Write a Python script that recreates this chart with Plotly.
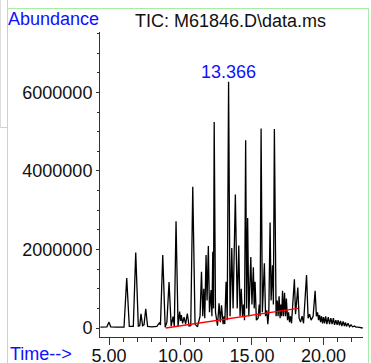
import plotly.graph_objects as go

# --- data (time in min, abundance in counts) ---
tic_time = [
    4.40, 4.85, 5.00, 5.12, 5.50, 6.05, 6.24, 6.42, 6.70, 6.87,
    7.05, 7.15, 7.24, 7.35, 7.45, 7.57, 7.70, 8.00, 8.35, 8.52,
    8.60, 8.76, 8.93, 9.05, 9.20, 9.35, 9.48, 9.57, 9.69, 9.83,
    9.94, 10.01, 10.06, 10.15, 10.25, 10.36, 10.48, 10.60, 10.72, 10.86,
    11.02, 11.19, 11.37, 11.47, 11.56, 11.63, 11.70, 11.79, 11.86, 11.95,
    12.03, 12.14, 12.20, 12.26, 12.31, 12.36, 12.45, 12.59, 12.70, 12.79,
    12.87, 12.98, 13.05, 13.10, 13.19, 13.27, 13.366, 13.47, 13.59, 13.68,
    13.84, 13.97, 14.08, 14.17, 14.25, 14.34, 14.41, 14.48, 14.56, 14.63,
    14.70, 14.78, 14.92, 15.00, 15.10, 15.16, 15.22, 15.31, 15.43, 15.51,
    15.57, 15.64, 15.73, 15.87, 15.95, 16.04, 16.11, 16.18, 16.27, 16.34,
    16.44, 16.50, 16.57, 16.65, 16.69, 16.77, 16.83, 16.90, 16.97, 17.02,
    17.08, 17.14, 17.21, 17.28, 17.35, 17.41, 17.49, 17.56, 17.63, 17.70,
    17.77, 17.97, 18.05, 18.21, 18.30, 18.40, 18.51, 18.61, 18.82, 18.93,
    19.03, 19.14, 19.28, 19.42, 19.51, 19.59, 19.66, 19.73, 19.80, 19.87,
    19.94, 20.01, 20.08, 20.16, 20.24, 20.34, 20.43, 20.52, 20.61, 20.70,
    20.78, 20.87, 20.96, 21.03, 21.12, 21.20, 21.29, 21.38, 21.47, 21.54,
    21.62, 21.72, 21.83, 21.93, 22.04, 22.18, 22.28, 22.42, 22.56, 22.75,
]
tic_abundance = [
    20000, 30000, 150000, 30000, 20000, 20000, 1270000, 40000, 40000, 1920000,
    50000, 60000, 360000, 60000, 80000, 490000, 40000, 30000, 40000, 130000,
    80000, 1860000, 20000, 150000, 1170000, 50000, 290000, 50000, 2720000, 40000,
    420000, 180000, 330000, 120000, 280000, 100000, 370000, 50000, 60000, 3600000,
    100000, 30000, 300000, 1430000, 300000, 1000000, 250000, 1860000, 700000, 2090000,
    400000, 970000, 300000, 1940000, 500000, 5250000, 400000, 60000, 630000, 150000,
    580000, 100000, 300000, 100000, 1180000, 200000, 6270000, 300000, 2040000, 500000,
    3400000, 500000, 2100000, 300000, 1000000, 300000, 600000, 200000, 4780000, 500000,
    2800000, 300000, 1810000, 600000, 1550000, 500000, 1180000, 200000, 250000, 600000,
    300000, 5080000, 400000, 1650000, 300000, 450000, 100000, 400000, 2690000, 700000,
    1600000, 600000, 5070000, 600000, 300000, 700000, 300000, 810000, 250000, 600000,
    300000, 950000, 300000, 900000, 300000, 750000, 200000, 400000, 150000, 300000,
    120000, 1240000, 350000, 1030000, 250000, 150000, 300000, 120000, 1350000, 250000,
    350000, 200000, 300000, 950000, 300000, 400000, 200000, 330000, 150000, 300000,
    120000, 280000, 120000, 300000, 100000, 280000, 100000, 250000, 100000, 250000,
    80000, 200000, 80000, 200000, 70000, 180000, 50000, 170000, 50000, 140000,
    40000, 120000, 30000, 80000, 30000, 50000, 20000, 20000, 10000, 0,
]
baseline_time = [8.97, 18.23]
baseline_abundance = [0, 500000]

apex_time = 13.366
apex_label = "13.366"
title_text = "TIC: M61846.D\\data.ms"
y_label = "Abundance"
x_label = "Time-->"

FONT = "Liberation Sans, Arial, sans-serif"

fig = go.Figure()
fig.add_trace(go.Scatter(x=tic_time, y=tic_abundance, mode="lines",
                         line=dict(color="black", width=1.3), hoverinfo="skip"))
fig.add_trace(go.Scatter(x=baseline_time, y=baseline_abundance, mode="lines",
                         line=dict(color="#ff0000", width=1.5), hoverinfo="skip"))

# plot area: x 100..363 px, y 32..337 px
def px(xp):
    return (xp - 100) / 263.0

def py(yp):
    return (337 - yp) / 305.0

green = "#a8eca8"
shapes = [
    dict(type="line", xref="paper", yref="paper", x0=px(7.5), x1=px(7.5), y0=py(0), y1=py(363), line=dict(color=green, width=1)),
    dict(type="line", xref="paper", yref="paper", x0=px(7.5), x1=px(368.5), y0=py(8.5), y1=py(8.5), line=dict(color=green, width=1)),
    dict(type="line", xref="paper", yref="paper", x0=px(368.5), x1=px(368.5), y0=py(8.5), y1=py(363), line=dict(color=green, width=1)),
    dict(type="line", xref="paper", yref="paper", x0=px(0), x1=px(7.5), y0=py(127.5), y1=py(127.5), line=dict(color=green, width=1)),
    dict(type="line", xref="paper", yref="paper", x0=px(0.5), x1=px(0.5), y0=py(0), y1=py(127.5), line=dict(color="#dcdcdc", width=1)),
]

annotations = [
    dict(text=y_label, xref="paper", yref="paper", x=px(6), y=py(18.7), xanchor="left", yanchor="middle",
         showarrow=False, font=dict(family=FONT, size=18, color="#1010ff")),
    dict(text=title_text, xref="paper", yref="paper", x=px(230.5), y=py(21.3), xanchor="center", yanchor="middle",
         showarrow=False, font=dict(family=FONT, size=18, color="#111111")),
    dict(text=apex_label, xref="x", yref="paper", x=apex_time, y=py(71.7), xanchor="center", yanchor="middle",
         showarrow=False, font=dict(family=FONT, size=18, color="#1010ff")),
    dict(text=x_label, xref="paper", yref="paper", x=px(8), y=py(353.5), xanchor="left", yanchor="middle",
         showarrow=False, font=dict(family=FONT, size=18, color="#1010ff")),
]

fig.update_layout(
    width=371, height=363, autosize=False,
    margin=dict(l=100, r=8, t=32, b=26, pad=0),
    paper_bgcolor="white", plot_bgcolor="white",
    showlegend=False,
    font=dict(family=FONT, size=18, color="#111111"),
    shapes=shapes, annotations=annotations,
)
fig.update_xaxes(range=[4.37, 22.77], showgrid=False, zeroline=False, automargin=False,
                 showline=True, linecolor="#333333", linewidth=1,
                 ticks="outside", ticklen=7, tickcolor="#333333", tickwidth=1,
                 ticklabelstandoff=-5,
                 tick0=5, dtick=5, tickformat=".2f",
                 minor=dict(ticks="outside", dtick=1, tick0=5, ticklen=4, tickcolor="#333333"))
fig.update_yaxes(range=[-229000, 7540000], showgrid=False, zeroline=False, automargin=False,
                 showline=True, linecolor="#333333", linewidth=1,
                 ticks="outside", ticklen=3, tickcolor="#333333", tickwidth=1,
                 tick0=0, dtick=2000000, tickformat="d",
                 minor=dict(ticks="outside", dtick=500000, ticklen=2, tickcolor="#333333"))

fig.write_html("out.html", config={"displayModeBar": False},
               post_script="document.body.style.margin='0';document.body.style.overflow='hidden';")
